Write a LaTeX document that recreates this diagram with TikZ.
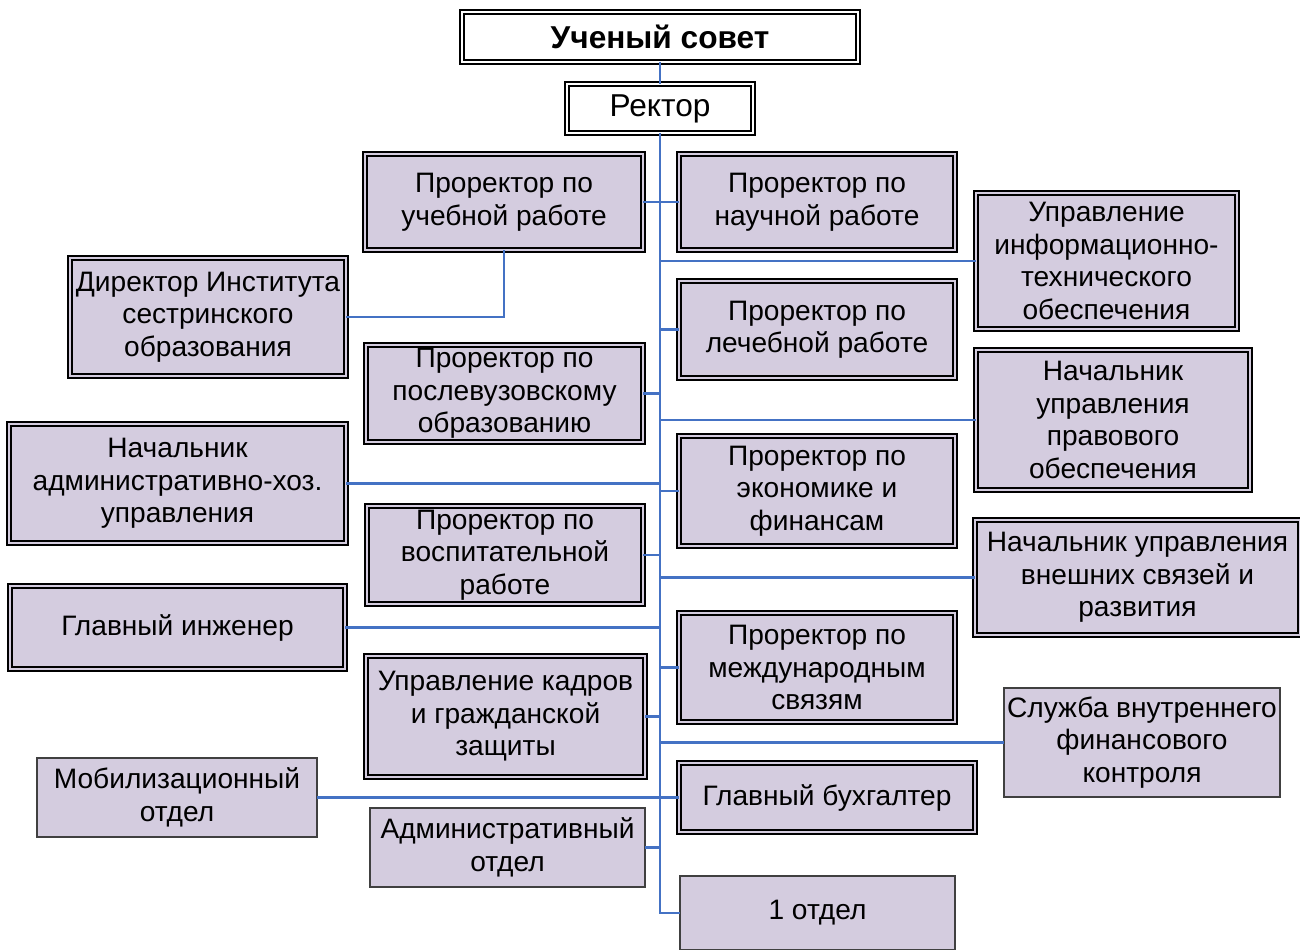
\documentclass[tikz,border=0pt]{standalone}
\usepackage{fontspec}
\setmainfont{Liberation Sans}
\definecolor{lav}{RGB}{212,204,223}
\definecolor{linkblue}{RGB}{68,114,196}
\begin{document}
\begin{tikzpicture}[
    box/.style={shape=rectangle,draw=black!75,fill=lav,line width=0.7pt,inner sep=1pt,outer sep=0pt,align=center,font=\fontsize{16}{18.5}\selectfont},
    dbox/.style={box,draw=black,line width=0.8pt,double=lav,double distance=1.3pt},
    topbox/.style={dbox,double=white,fill=white,font=\fontsize{18}{21}\selectfont},
    link/.style={draw=linkblue,line width=1.4pt}]
    \useasboundingbox (0,0) rectangle (26,-18.98);
    \node[topbox,minimum width=7.92cm,minimum height=1cm] (S) at (13.2,-0.74) {\bfseries Ученый совет};
    \node[topbox,minimum width=3.72cm,minimum height=0.98cm] (R) at (13.2,-2.17) {Ректор};
    \node[dbox,minimum width=5.56cm,minimum height=1.92cm] (UR) at (10.08,-4.04) {Проректор по\\учебной работе};
    \node[dbox,minimum width=5.52cm,minimum height=1.92cm] (NR) at (16.34,-4.04) {Проректор по\\научной работе};
    \node[dbox,minimum width=5.22cm,minimum height=2.72cm] (IT) at (22.13,-5.22) {Управление\\информационно-\\технического\\обеспечения};
    \node[dbox,minimum width=5.52cm,minimum height=2.36cm] (DI) at (4.16,-6.34) {Директор Института\\сестринского\\образования};
    \node[dbox,minimum width=5.52cm,minimum height=1.94cm] (LR) at (16.34,-6.59) {Проректор по\\лечебной работе};
    \node[dbox,minimum width=5.54cm,minimum height=1.94cm] (PO) at (10.09,-7.87) {Проректор по\\послевузовскому\\образованию};
    \node[dbox,minimum width=5.48cm,minimum height=2.8cm] (PR) at (22.26,-8.4) {Начальник\\управления\\правового\\обеспечения};
    \node[dbox,minimum width=6.74cm,minimum height=2.38cm] (AH) at (3.55,-9.67) {Начальник\\административно-хоз.\\управления};
    \node[dbox,minimum width=5.52cm,minimum height=2.2cm] (EF) at (16.34,-9.82) {Проректор по\\экономике и\\финансам};
    \node[dbox,minimum width=5.52cm,minimum height=1.96cm] (VR) at (10.1,-11.1) {Проректор по\\воспитательной\\работе};
    \node[dbox,minimum width=6.5cm,minimum height=2.3cm] (VS) at (22.75,-11.55) {Начальник управления\\внешних связей и\\развития};
    \node[dbox,minimum width=6.7cm,minimum height=1.66cm] (GI) at (3.55,-12.55) {Главный инженер};
    \node[dbox,minimum width=5.52cm,minimum height=2.18cm] (MS) at (16.34,-13.35) {Проректор по\\международным\\связям};
    \node[dbox,minimum width=5.58cm,minimum height=2.42cm] (KZ) at (10.11,-14.33) {Управление кадров\\и гражданской\\защиты};
    \node[box,minimum width=5.52cm,minimum height=2.18cm] (FK) at (22.84,-14.85) {Служба внутреннего\\финансового\\контроля};
    \node[box,minimum width=5.6cm,minimum height=1.58cm] (MO) at (3.54,-15.95) {Мобилизационный\\отдел};
    \node[dbox,minimum width=5.92cm,minimum height=1.38cm] (GB) at (16.54,-15.95) {Главный бухгалтер};
    \node[box,minimum width=5.5cm,minimum height=1.58cm] (AO) at (10.15,-16.95) {Административный\\отдел};
    \node[box,minimum width=5.5cm,minimum height=1.48cm] (OD) at (16.35,-18.26) {1 отдел};
    % trunk
    \path [link](S) edge (R);
    \draw [link](R.south) |- (OD.west);
    % branches
    \path [link](UR) edge (NR);
    \draw [link](UR.south) |- (DI.east);
    \draw [link](IT.west) -- (IT.west -| R.south);
    \draw [link](LR.west) -- (LR.west -| R.south);
    \draw [link](PO.east) -- (PO.east -| R.south);
    \draw [link](PR.west) -- (PR.west -| R.south);
    \draw [link](AH.east) -- (AH.east -| R.south);
    \draw [link](EF.west) -- (EF.west -| R.south);
    \draw [link](VR.east) -- (VR.east -| R.south);
    \draw [link](VS.west) -- (VS.west -| R.south);
    \draw [link](GI.east) -- (GI.east -| R.south);
    \draw [link](MS.west) -- (MS.west -| R.south);
    \draw [link](KZ.east) -- (KZ.east -| R.south);
    \draw [link](FK.west) -- (FK.west -| R.south);
    \path [link](MO) edge (GB);
    \draw [link](AO.east) -- (AO.east -| R.south);
\end{tikzpicture}
\end{document}
